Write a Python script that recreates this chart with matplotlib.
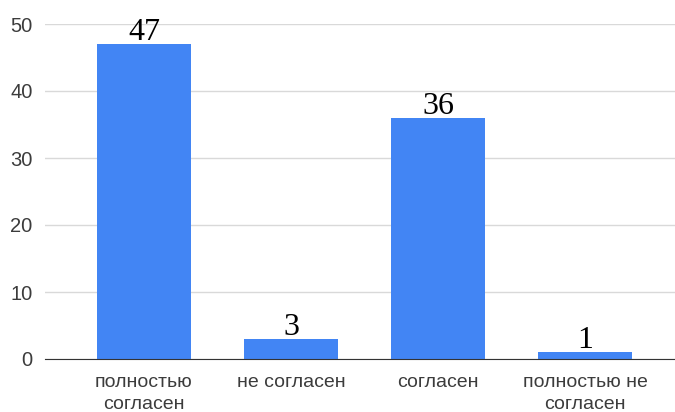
import matplotlib
matplotlib.use("Agg")
from matplotlib import pyplot as plt

categories = ["полностью\nсогласен", "не согласен", "согласен", "полностью не\nсогласен"]
values = [47, 3, 36, 1]
y_ticks = [0, 10, 20, 30, 40, 50]

fig = plt.figure(figsize=(6.75, 4.12), dpi=100)
# axes placed in figure pixels: left 45, right 675, zero at y=359, 50 at y=24
ax = fig.add_axes([45 / 675, (412 - 359) / 412, 630 / 675, (359 - 24) / 412])

x = list(range(len(categories)))
ax.bar(x, values, width=0.646, color="#4285f4", zorder=3)

for xi, v in zip(x, values):
    ax.annotate(str(v), (xi, v), xytext=(0, 3), textcoords="offset points",
                ha="center", va="baseline", fontsize=23,
                family="Liberation Serif", color="black", zorder=4)

ax.set_ylim(0, 50)
ax.set_xlim((45 - 144) / 147, (675 - 144) / 147)
ax.set_yticks(y_ticks)
ax.set_yticklabels([str(t) for t in y_ticks], family="Liberation Sans", fontsize=14.5, color="#3c3c3c")
ax.set_xticks(x)
ax.set_xticklabels(categories, family="Liberation Sans", fontsize=14, color="#3c3c3c", linespacing=1.4)
ax.tick_params(axis="y", length=0, pad=9)
ax.tick_params(axis="x", length=0, pad=11)

ax.grid(axis="y", color="#d9d9d9", linewidth=1, zorder=0)
ax.set_axisbelow(True)
for s in ["top", "right", "left"]:
    ax.spines[s].set_visible(False)
ax.spines["bottom"].set_color("#333333")
ax.spines["bottom"].set_zorder(5)

fig.savefig("out.png", dpi=100)
